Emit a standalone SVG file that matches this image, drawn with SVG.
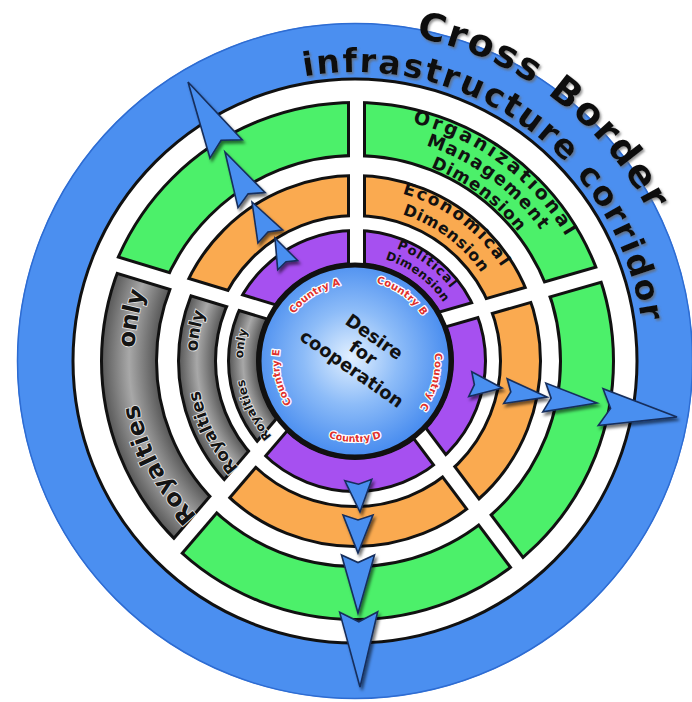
<svg xmlns="http://www.w3.org/2000/svg" width="692" height="702" viewBox="0 0 692 702">
  <style>
    .t { font-family: "DejaVu Sans", "Liberation Sans", sans-serif; font-weight: bold; fill: #111; }
    .country { font-family: "DejaVu Sans", "Liberation Sans", sans-serif; font-weight: bold; font-size: 10px; fill: #e0312d; stroke: #fff; stroke-width: 2.4px; stroke-linejoin: round; paint-order: stroke; }
    .gray-t { font-family: "DejaVu Sans", "Liberation Sans", sans-serif; font-weight: bold; fill: #141414; stroke: #e6e6e6; stroke-width: 1.6px; paint-order: stroke; }
    .band-k { fill: none; stroke: #111; }
    .dart { fill: #4a8ff0; stroke: #162e5c; }
  </style>
  <defs>
    <!-- white radial separators: narrow for the black outlines, wide for the colour fills -->
    <mask id="gapNarrow" maskUnits="userSpaceOnUse" x="0" y="0" width="692" height="702">
      <rect width="692" height="702" fill="#fff"/>
      <g stroke="#000" stroke-width="13">
        <line x1="356.5" y1="320" x2="356.5" y2="60"/>
        <line x1="400" y1="331.7" x2="660" y2="257"/>
        <line x1="394.8" y1="400" x2="560" y2="620"/>
        <line x1="303" y1="400" x2="131.6" y2="600"/>
        <line x1="310" y1="323.6" x2="60" y2="247.7"/>
      </g>
    </mask>
    <mask id="gapWide" maskUnits="userSpaceOnUse" x="0" y="0" width="692" height="702">
      <rect width="692" height="702" fill="#fff"/>
      <g stroke="#000" stroke-width="19">
        <line x1="356.5" y1="320" x2="356.5" y2="60"/>
        <line x1="400" y1="331.7" x2="660" y2="257"/>
        <line x1="394.8" y1="400" x2="560" y2="620"/>
        <line x1="303" y1="400" x2="131.6" y2="600"/>
        <line x1="310" y1="323.6" x2="60" y2="247.7"/>
      </g>
    </mask>
    <!-- left sector holds the grey "royalties" bands, the rest holds the dimensions -->
    <clipPath id="clipGray">
      <path d="M303,400 L131.6,600 L-10,600 L-10,247.7 L60,247.7 L310,323.6 Z"/>
    </clipPath>
    <clipPath id="clipDims">
      <path clip-rule="evenodd" d="M-20,-20 H712 V722 H-20 Z M303,400 L131.6,600 L-10,600 L-10,247.7 L60,247.7 L310,323.6 Z"/>
    </clipPath>

    <radialGradient id="coreFill" cx="0.48" cy="0.48" r="0.55">
      <stop offset="0" stop-color="#e2f0ff"/>
      <stop offset="0.45" stop-color="#8dbcf8"/>
      <stop offset="1" stop-color="#3f86ee"/>
    </radialGradient>
    <radialGradient id="grayOuter" gradientUnits="userSpaceOnUse" cx="355" cy="361" r="255">
      <stop offset="0.785" stop-color="#5c5c5c"/>
      <stop offset="0.886" stop-color="#a8a8a8"/>
      <stop offset="0.988" stop-color="#5c5c5c"/>
    </radialGradient>
    <radialGradient id="grayMid" gradientUnits="userSpaceOnUse" cx="355" cy="361" r="178">
      <stop offset="0.79" stop-color="#5c5c5c"/>
      <stop offset="0.888" stop-color="#a8a8a8"/>
      <stop offset="0.983" stop-color="#5c5c5c"/>
    </radialGradient>
    <radialGradient id="grayInner" gradientUnits="userSpaceOnUse" cx="355" cy="361" r="128">
      <stop offset="0.773" stop-color="#5c5c5c"/>
      <stop offset="0.875" stop-color="#a8a8a8"/>
      <stop offset="0.977" stop-color="#5c5c5c"/>
    </radialGradient>

    <filter id="softShadow" x="-20%" y="-20%" width="140%" height="140%">
      <feDropShadow dx="2" dy="3" stdDeviation="1.6" flood-color="#000" flood-opacity="0.55"/>
    </filter>
    <filter id="textShadow" x="-10%" y="-10%" width="120%" height="120%">
      <feDropShadow dx="1.5" dy="2" stdDeviation="1.2" flood-color="#666" flood-opacity="0.7"/>
    </filter>

    <!-- dart-shaped arrowhead, tip at origin pointing along +x -->
    <path id="dart" d="M0,0 L-100,-25 L-87,0 L-100,25 Z" vector-effect="non-scaling-stroke" stroke-width="1.6" stroke-linejoin="miter"/>

    <!-- text baselines (clockwise arcs unless noted) -->
    <path id="arcCross" d="M309.21,35.2 A329,329 0 0 1 680.39,312.37"/>
    <path id="arcInfra" d="M256.16,89.43 A289,289 0 0 1 643.82,371.09"/>
    <path id="arcOrg1" d="M257.31,136.32 A245,245 0 0 1 598.42,388.73"/>
    <path id="arcOrg2" d="M264.48,152.83 A227,227 0 0 1 580.54,386.7"/>
    <path id="arcOrg3" d="M272.06,170.25 A208,208 0 0 1 561.66,384.55"/>
    <path id="arcEco1" d="M285.62,201.43 A174,174 0 0 1 527.88,380.7"/>
    <path id="arcEco2" d="M293.59,219.77 A154,154 0 0 1 508.01,378.43"/>
    <path id="arcPol1" d="M307.15,250.95 A120,120 0 0 1 474.23,374.58"/>
    <path id="arcPol2" d="M312.73,263.79 A106,106 0 0 1 460.32,373"/>
    <path id="arcRoyOuter" d="M244.5,552.39 A221,221 0 0 1 163.61,250.5"/>
    <path id="arcRoyMid" d="M276,497.83 A158,158 0 0 1 218.17,282"/>
    <path id="arcRoyInner" d="M299,457.99 A112,112 0 0 1 258.01,305"/>
    <path id="arcCtyA" d="M278.03,363.15 A77,77 0 0 1 391.62,293.27"/>
    <path id="arcCtyB" d="M321.67,287.18 A81,81 0 0 1 435.6,369.04"/>
    <path id="arcCtyC" d="M411.86,304.73 A80,80 0 0 1 375.3,438.38"/>
    <!-- counter-clockwise so the bottom label reads upright -->
    <path id="arcCtyD" d="M284.85,401.5 A81,81 0 0 0 425.15,401.5"/>
    <path id="arcCtyE" d="M332.15,433.48 A76,76 0 0 1 303.66,304.97"/>
  </defs>

  <rect width="692" height="702" fill="#fff"/>

  <!-- outer corridor ring -->
  <g id="corridor">
    <circle cx="355" cy="361" r="310" fill="none" stroke="#4b8ff0" stroke-width="56"/>
    <circle cx="355" cy="361" r="337.5" fill="none" stroke="#2e6cd2" stroke-width="1.5"/>
    <circle cx="355" cy="361" r="282" fill="none" stroke="#111" stroke-width="3"/>
  </g>

  <!-- organizational / management dimension (green band) -->
  <g id="dim-organizational" clip-path="url(#clipDims)">
    <circle class="band-k" cx="355" cy="361" r="232" stroke-width="56" mask="url(#gapNarrow)"/>
    <circle cx="355" cy="361" r="232" fill="none" stroke="#4cf06a" stroke-width="50" mask="url(#gapWide)"/>
  </g>

  <!-- economical dimension (orange band) -->
  <g id="dim-economical" clip-path="url(#clipDims)">
    <circle class="band-k" cx="355" cy="361" r="165.5" stroke-width="43" mask="url(#gapNarrow)"/>
    <circle cx="355" cy="361" r="165.5" fill="none" stroke="#faaa50" stroke-width="37" mask="url(#gapWide)"/>
  </g>

  <!-- political dimension (purple band) -->
  <g id="dim-political" clip-path="url(#clipDims)">
    <circle class="band-k" cx="355" cy="361" r="114" stroke-width="36" mask="url(#gapNarrow)"/>
    <circle cx="355" cy="361" r="114" fill="none" stroke="#a650f0" stroke-width="30" mask="url(#gapWide)"/>
  </g>

  <!-- royalties sector (grey bands) -->
  <g id="royalties" clip-path="url(#clipGray)">
    <circle class="band-k" cx="355" cy="361" r="226" stroke-width="58" mask="url(#gapNarrow)"/>
    <circle cx="355" cy="361" r="226" fill="none" stroke="url(#grayOuter)" stroke-width="52" mask="url(#gapWide)"/>
    <circle class="band-k" cx="355" cy="361" r="158" stroke-width="40" mask="url(#gapNarrow)"/>
    <circle cx="355" cy="361" r="158" fill="none" stroke="url(#grayMid)" stroke-width="34" mask="url(#gapWide)"/>
    <circle class="band-k" cx="355" cy="361" r="112" stroke-width="32" mask="url(#gapNarrow)"/>
    <circle cx="355" cy="361" r="112" fill="none" stroke="url(#grayInner)" stroke-width="26" mask="url(#gapWide)"/>
  </g>

  <!-- band labels -->
  <g id="labels">
    <g filter="url(#textShadow)">
      <text class="t" font-size="38"><textPath href="#arcCross" startOffset="50%" text-anchor="middle" textLength="300" lengthAdjust="spacing">Cross Border</textPath></text>
      <text class="t" font-size="33"><textPath href="#arcInfra" startOffset="50%" text-anchor="middle" textLength="465" lengthAdjust="spacing">infrastructure corridor</textPath></text>
    </g>
    <text class="t" font-size="19"><textPath href="#arcOrg1" startOffset="50%" text-anchor="middle" textLength="196">Organizational</textPath></text>
    <text class="t" font-size="18"><textPath href="#arcOrg2" startOffset="50%" text-anchor="middle" textLength="145">Management</textPath></text>
    <text class="t" font-size="17"><textPath href="#arcOrg3" startOffset="50%" text-anchor="middle" textLength="110">Dimension</textPath></text>
    <text class="t" font-size="17"><textPath href="#arcEco1" startOffset="50%" text-anchor="middle" textLength="126">Economical</textPath></text>
    <text class="t" font-size="16"><textPath href="#arcEco2" startOffset="50%" text-anchor="middle" textLength="100">Dimension</textPath></text>
    <text class="t" font-size="13"><textPath href="#arcPol1" startOffset="50%" text-anchor="middle" textLength="68">Political</textPath></text>
    <text class="t" font-size="12"><textPath href="#arcPol2" startOffset="50%" text-anchor="middle" textLength="74">Dimension</textPath></text>

    <text class="gray-t" font-size="24"><textPath href="#arcRoyOuter" startOffset="124" text-anchor="middle" textLength="128">Royalties</textPath></text>
    <text class="gray-t" font-size="24"><textPath href="#arcRoyOuter" startOffset="273" text-anchor="middle">only</textPath></text>
    <text class="gray-t" font-size="17"><textPath href="#arcRoyMid" startOffset="92" text-anchor="middle" textLength="88">Royalties</textPath></text>
    <text class="gray-t" font-size="17"><textPath href="#arcRoyMid" startOffset="195" text-anchor="middle">only</textPath></text>
    <text class="gray-t" font-size="12"><textPath href="#arcRoyInner" startOffset="67" text-anchor="middle" textLength="64">Royalties</textPath></text>
    <text class="gray-t" font-size="12"><textPath href="#arcRoyInner" startOffset="134" text-anchor="middle">only</textPath></text>
  </g>

  <!-- core: desire for cooperation between the countries -->
  <g id="core">
    <circle cx="355" cy="361" r="96" fill="url(#coreFill)" stroke="#111" stroke-width="5"/>
    <text class="country"><textPath href="#arcCtyA" startOffset="50%" text-anchor="middle" textLength="56">Country A</textPath></text>
    <text class="country"><textPath href="#arcCtyB" startOffset="50%" text-anchor="middle" textLength="58">Country B</textPath></text>
    <text class="country"><textPath href="#arcCtyC" startOffset="50%" text-anchor="middle" textLength="58">Country C</textPath></text>
    <text class="country"><textPath href="#arcCtyD" startOffset="50%" text-anchor="middle" textLength="54">Country D</textPath></text>
    <text class="country"><textPath href="#arcCtyE" startOffset="50%" text-anchor="middle" textLength="56">Country E</textPath></text>
    <g transform="rotate(35 363 353)" class="t" font-size="18" text-anchor="middle">
      <text x="363" y="339.5">Desire</text>
      <text x="363" y="359">for</text>
      <text x="363" y="378.5">cooperation</text>
    </g>
  </g>

  <!-- outward arrows -->
  <g id="connectors" filter="url(#softShadow)">
    <g id="arrows-upleft" class="dart">
      <use href="#dart" transform="translate(275,238) rotate(-115) scale(0.30,0.44)"/>
      <use href="#dart" transform="translate(252,202) rotate(-118) scale(0.39,0.56)"/>
      <use href="#dart" transform="translate(225,152) rotate(-118.9) scale(0.55,0.62)"/>
      <use href="#dart" transform="translate(188,82) rotate(-119.6) scale(0.77,0.74)"/>
    </g>
    <g id="arrows-right" class="dart">
      <use href="#dart" transform="translate(502,388) rotate(7) scale(0.32,0.50)"/>
      <use href="#dart" transform="translate(547,397) rotate(8) scale(0.42,0.50)"/>
      <use href="#dart" transform="translate(597,403) rotate(6) scale(0.53,0.58)"/>
      <use href="#dart" transform="translate(677,417) rotate(7.4) scale(0.77,0.74)"/>
    </g>
    <g id="arrows-down" class="dart">
      <use href="#dart" transform="translate(360,512) rotate(87) scale(0.32,0.54)"/>
      <use href="#dart" transform="translate(358,553) rotate(90) scale(0.38,0.60)"/>
      <use href="#dart" transform="translate(358,613) rotate(90) scale(0.58,0.66)"/>
      <use href="#dart" transform="translate(360,687) rotate(89) scale(0.75,0.76)"/>
    </g>
  </g>
</svg>
